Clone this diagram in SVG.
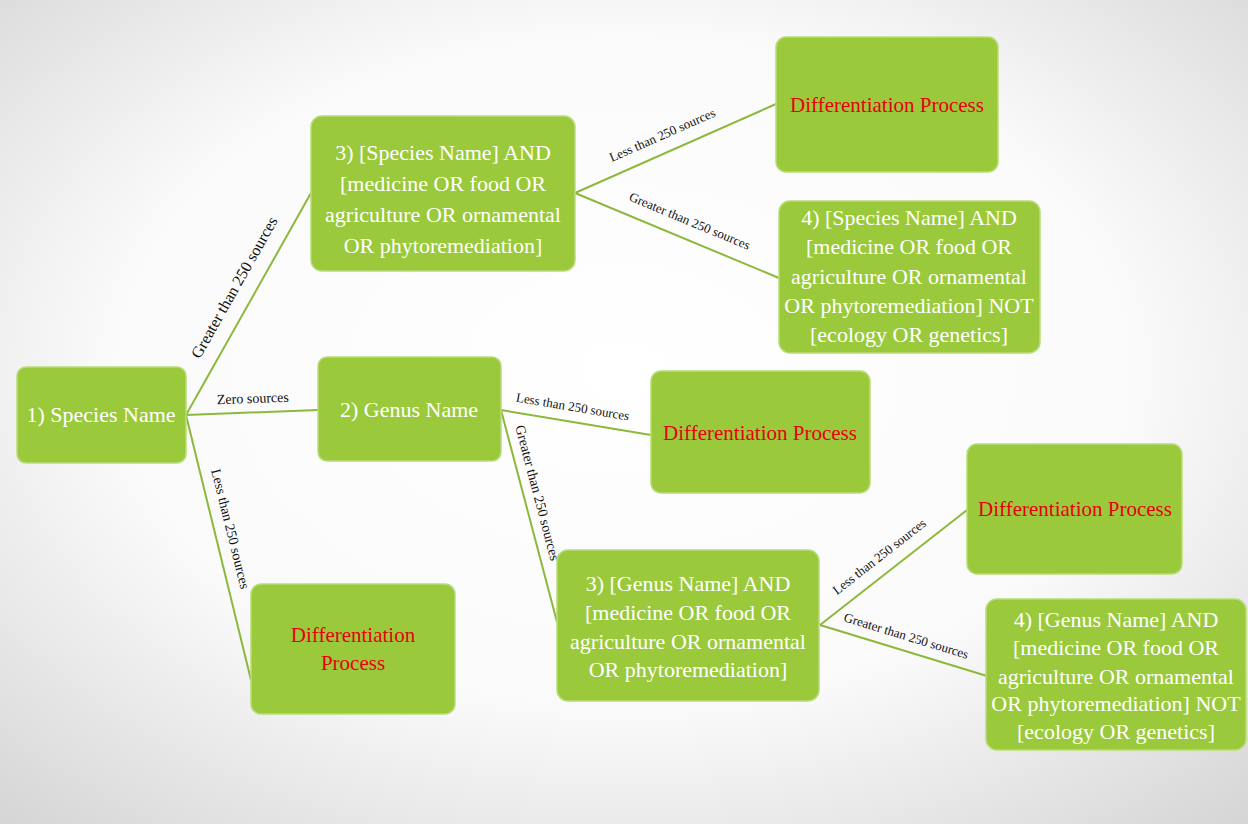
<svg xmlns="http://www.w3.org/2000/svg" width="1248" height="824" viewBox="0 0 1248 824">
<defs>
<radialGradient id="bg" cx="0.5" cy="0.45" r="0.75">
<stop offset="0" stop-color="#ffffff"/>
<stop offset="0.55" stop-color="#fafafa"/>
<stop offset="1" stop-color="#d4d4d4"/>
</radialGradient>
</defs>
<style>
.box{fill:#9aca3c;stroke:#b9dc7a;stroke-width:1.5}
.t{font-family:"Liberation Serif",serif;font-size:22px;fill:#ffffff;text-anchor:middle}
.r{font-family:"Liberation Serif",serif;font-size:21px;fill:#e8000b;text-anchor:middle}
.ln{stroke:#8cb83c;stroke-width:2;fill:none}
.lb{font-family:"Liberation Serif",serif;font-size:13px;fill:#111111;text-anchor:middle}
</style>
<rect x="0" y="0" width="1248" height="824" fill="url(#bg)"/>
<g id="connectors">
<line class="ln" x1="186" y1="415" x2="311" y2="193"/>
<line class="ln" x1="186" y1="415" x2="318" y2="410"/>
<line class="ln" x1="186" y1="415" x2="251" y2="680"/>
<line class="ln" x1="575" y1="193" x2="776" y2="104"/>
<line class="ln" x1="575" y1="193" x2="779" y2="278"/>
<line class="ln" x1="501" y1="410" x2="651" y2="435"/>
<line class="ln" x1="501" y1="410" x2="557" y2="622"/>
<line class="ln" x1="820" y1="625" x2="967" y2="510"/>
<line class="ln" x1="820" y1="625" x2="987" y2="676"/>
<text class="lb" style="font-size:16px" transform="translate(239,290) rotate(-60.6)">Greater than 250 sources</text>
<text class="lb" style="font-size:14px" transform="translate(253,403) rotate(-2)">Zero sources</text>
<text class="lb" style="font-size:14px" transform="translate(226,530) rotate(76)">Less than 250 sources</text>
<text class="lb" transform="translate(664,139) rotate(-23.8)">Less than 250 sources</text>
<text class="lb" transform="translate(688,225) rotate(22.6)">Greater than 250 sources</text>
<text class="lb" transform="translate(572,411) rotate(9.5)">Less than 250 sources</text>
<text class="lb" style="font-size:14px" transform="translate(533,494) rotate(75.2)">Greater than 250 sources</text>
<text class="lb" transform="translate(882,560) rotate(-38)">Less than 250 sources</text>
<text class="lb" transform="translate(905,640) rotate(17)">Greater than 250 sources</text>
</g>
<g id="n1">
<rect class="box" x="17" y="367" width="169" height="96" rx="9"/>
<text class="t" x="101" y="422">1) Species Name</text>
</g>
<g id="n3s">
<rect class="box" x="311" y="116" width="264" height="155" rx="11"/>
<text class="t" x="443" y="160">3) [Species Name] AND</text>
<text class="t" x="443" y="191">[medicine OR food OR</text>
<text class="t" x="443" y="222">agriculture OR ornamental</text>
<text class="t" x="443" y="253">OR phytoremediation]</text>
</g>
<g id="dp1">
<rect class="box" x="776" y="37" width="222" height="135" rx="10"/>
<text class="r" x="887" y="112">Differentiation Process</text>
</g>
<g id="n4s">
<rect class="box" x="779" y="201" width="261" height="152" rx="11"/>
<text class="t" x="909" y="225">4) [Species Name] AND</text>
<text class="t" x="909" y="254">[medicine OR food OR</text>
<text class="t" x="909" y="284">agriculture OR ornamental</text>
<text class="t" x="909" y="313">OR phytoremediation] NOT</text>
<text class="t" x="909" y="342">[ecology OR genetics]</text>
</g>
<g id="n2">
<rect class="box" x="318" y="357" width="183" height="104" rx="9"/>
<text class="t" x="409" y="417">2) Genus Name</text>
</g>
<g id="dp2">
<rect class="box" x="651" y="371" width="219" height="122" rx="10"/>
<text class="r" x="760" y="440">Differentiation Process</text>
</g>
<g id="n3g">
<rect class="box" x="557" y="550" width="262" height="151" rx="11"/>
<text class="t" x="688" y="591">3) [Genus Name] AND</text>
<text class="t" x="688" y="620">[medicine OR food OR</text>
<text class="t" x="688" y="649">agriculture OR ornamental</text>
<text class="t" x="688" y="677">OR phytoremediation]</text>
</g>
<g id="dp3">
<rect class="box" x="967" y="444" width="215" height="130" rx="10"/>
<text class="r" x="1075" y="516">Differentiation Process</text>
</g>
<g id="n4g">
<rect class="box" x="986" y="599" width="260" height="151" rx="11"/>
<text class="t" x="1116" y="627">4) [Genus Name] AND</text>
<text class="t" x="1116" y="655">[medicine OR food OR</text>
<text class="t" x="1116" y="684">agriculture OR ornamental</text>
<text class="t" x="1116" y="711">OR phytoremediation] NOT</text>
<text class="t" x="1116" y="739">[ecology OR genetics]</text>
</g>
<g id="dp4">
<rect class="box" x="251" y="584" width="204" height="130" rx="10"/>
<text class="r" x="353" y="642">Differentiation</text>
<text class="r" x="353" y="670">Process</text>
</g>
</svg>
